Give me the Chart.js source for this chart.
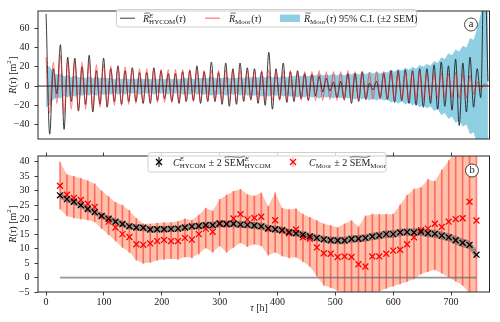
<!DOCTYPE html>
<html>
<head>
<meta charset="utf-8">
<script src="https://cdn.jsdelivr.net/npm/chart.js@4.4.1/dist/chart.umd.min.js"></script>
<style>
  html, body { margin: 0; padding: 0; background: #fff; }
  #wrap { position: relative; width: 500px; height: 322px; overflow: hidden; }
  canvas { position: absolute; left: 0; }
  #top { top: 0; }
  #bot { top: 145px; }
</style>
</head>
<body>
<div id="wrap">
  <canvas id="top" width="500" height="150"></canvas>
  <canvas id="bot" width="500" height="177"></canvas>
</div>
<script>
// ---- panel (a): extrema of the lag correlations, tau in hours
const extTau = [
  0, 6.2, 12.4, 18.6, 24.8, 31.1, 37.3, 43.5, 49.7, 55.9,
  62.1, 68.3, 74.5, 80.7, 86.9, 93.2, 99.4, 105.6, 111.8, 118.0,
  124.2, 130.4, 136.6, 142.8, 149.0, 155.3, 161.5, 167.7, 173.9, 180.1,
  186.3, 192.5, 198.7, 204.9, 211.1, 217.4, 223.6, 229.8, 236.0, 242.2,
  248.4, 254.6, 260.8, 267.0, 273.2, 279.5, 285.7, 291.9, 298.1, 304.3,
  310.5, 316.7, 322.9, 329.1, 335.3, 341.6, 347.8, 354.0, 360.2, 366.4,
  372.6, 378.8, 385.0, 391.2, 397.4, 403.7, 409.9, 416.1, 422.3, 428.5,
  434.7, 440.9, 447.1, 453.3, 459.5, 465.8, 472.0, 478.2, 484.4, 490.6,
  496.8, 503.0, 509.2, 515.4, 521.6, 527.9, 534.1, 540.3, 546.5, 552.7,
  558.9, 565.1, 571.3, 577.5, 583.7, 590.0, 596.2, 602.4, 608.6, 614.8,
  621.0, 627.2, 633.4, 639.6, 645.8, 652.1, 658.3, 664.5, 670.7, 676.9,
  683.1, 689.3, 695.5, 701.7, 707.9, 714.2, 720.4, 726.6, 732.8, 739.0,
  745.2, 751.4, 757.6, 763.8
];
const hycomExt = [
  75, -50, 18, -8, 43, -45, 30, -16, 29, -26,
  20, -19, 32, -27, 16, -19, 29, -22, 18, -16,
  21, -19, 16, -16, 19, -16, 14, -18, 14, -18,
  19, -15, 16, -13, 13, -16, 13, -18, 15, -16,
  16, -15, 21, -18, 15, -16, 25, -16, 14, -19,
  24, -21, 18, -19, 24, -16, 19, -14, 18, -18,
  15, -20, 35, -24, 18, -14, 24, -17, 15, -16,
  16, -13, 13, -15, 12, -10, 10, -6, 8, -5,
  4, -12, 5, -14, 13, -18, 13, -16, 15, -14,
  3, -4, 5, -12, 13, -14, 16, -17, 16, -15,
  17, -18, 16, -20, 18, -22, 18, -18, 22, -24,
  25, -21, 21, -25, 28, -41, 24, -27, 30, -22,
  18, -12, 140, 5
];
const moorExt = [
  30, -28, 25, -18, 32, -30, 26, -24, 27, -25,
  25, -24, 25, -23, 22, -22, 22, -21, 21, -20,
  20, -20, 20, -19, 19, -18, 18, -18, 18, -17,
  18, -17, 17, -17, 17, -17, 17, -17, 17, -16,
  17, -16, 17, -16, 16, -16, 16, -16, 16, -16,
  17, -16, 16, -16, 17, -15, 16, -15, 16, -15,
  16, -15, 17, -15, 16, -15, 16, -15, 16, -15,
  15, -15, 15, -15, 15, -15, 16, -15, 15, -14,
  15, -15, 15, -15, 16, -15, 15, -15, 15, -14,
  14, -14, 15, -14, 15, -14, 16, -14, 15, -14,
  15, -14, 16, -14, 15, -14, 14, -13, 14, -13,
  14, -12, 13, -12, 14, -13, 13, -12, 11, -8,
  4, -3, 2, 0
];
// half width of the 95% C.I. band (2 SEM)
const ciHalf = [
  22, 20, 14, 12, 13, 10, 12, 9, 11, 9,
  10, 8, 10, 8, 10, 8, 9, 8, 9, 7,
  9, 7, 9, 7, 8, 7, 9, 7, 8, 7,
  9, 7, 8, 7, 9, 7, 8, 7, 9, 8,
  9, 7, 9, 8, 9, 8, 10, 8, 9, 8,
  10, 8, 9, 8, 10, 8, 10, 9, 10, 9,
  11, 9, 11, 9, 10, 9, 11, 9, 11, 10,
  12, 10, 12, 10, 12, 11, 13, 11, 12, 11,
  13, 11, 13, 11, 13, 12, 14, 12, 14, 12,
  15, 13, 15, 13, 15, 14, 17, 15, 18, 16,
  19, 17, 20, 18, 22, 20, 23, 21, 26, 24,
  30, 28, 34, 32, 38, 36, 42, 40, 50, 48,
  60, 75, 110, 130
];

// ---- panel (b): binned covariances
const tau = [
  24, 36, 48, 60, 72, 84, 96, 108, 120, 132,
  144, 156, 168, 180, 192, 204, 216, 228, 240, 252,
  264, 276, 288, 300, 312, 324, 336, 348, 360, 372,
  384, 396, 408, 420, 432, 444, 456, 468, 480, 492,
  504, 516, 528, 540, 552, 564, 576, 588, 600, 612,
  624, 636, 648, 660, 672, 684, 696, 708, 720, 732,
  744
];
const cHycom = [
  28.4, 27.1, 26.2, 25.0, 23.7, 22.6, 21.3, 20.3, 19.3, 18.5,
  17.7, 17.3, 17.2, 16.6, 16.7, 16.7, 16.8, 16.9, 17.3, 17.7,
  17.8, 18.1, 18.1, 18.6, 18.5, 18.6, 18.3, 18.2, 18.0, 17.7,
  17.0, 16.7, 16.4, 15.7, 15.3, 14.8, 14.2, 13.7, 13.2, 12.9,
  12.8, 12.8, 13.3, 13.4, 13.7, 14.2, 14.5, 15.0, 15.0, 15.6,
  15.7, 15.6, 15.8, 15.3, 15.1, 14.5, 13.9, 12.9, 12.0, 11.3,
  7.9
];
const semHycom2 = [
  1.1, 1.1, 1.1, 1.1, 1.1, 1.1, 1.1, 1.1, 1.1, 1.1,
  1.1, 1.1, 1.1, 1.1, 1.1, 1.1, 1.1, 1.1, 1.1, 1.1,
  1.2, 1.2, 1.2, 1.2, 1.2, 1.2, 1.2, 1.2, 1.2, 1.2,
  1.2, 1.2, 1.2, 1.2, 1.2, 1.2, 1.2, 1.2, 1.2, 1.2,
  1.3, 1.3, 1.3, 1.3, 1.3, 1.3, 1.3, 1.3, 1.3, 1.3,
  1.3, 1.4, 1.4, 1.4, 1.4, 1.4, 1.4, 1.5, 1.5, 1.5,
  1.6
];
const cMoor = [
  31.7, 28.6, 27.5, 26.8, 25.5, 24.4, 21.3, 19.3, 17.3, 15.0,
  14.0, 11.5, 11.3, 11.8, 12.6, 13.0, 12.6, 12.6, 13.7, 13.1,
  15.0, 16.9, 15.8, 18.8, 18.5, 20.4, 21.9, 20.1, 20.6, 21.0,
  16.8, 19.8, 16.2, 15.3, 16.6, 13.9, 13.4, 10.4, 8.4, 8.2,
  7.1, 7.3, 7.1, 4.6, 3.8, 7.3, 7.3, 8.2, 9.3, 9.6,
  11.5, 13.9, 16.4, 16.9, 18.6, 17.5, 19.3, 20.2, 20.5, 26.2,
  19.7
];
const moorHi = [
  39.9, 35.6, 35.0, 34.3, 33.5, 32.4, 30.0, 28.0, 26.0, 25.0,
  23.2, 20.5, 18.6, 18.6, 18.8, 19.0, 19.0, 19.4, 20.3, 19.8,
  21.6, 24.0, 23.0, 27.0, 28.5, 29.8, 30.5, 28.7, 28.2, 29.3,
  24.6, 29.3, 24.0, 23.5, 23.8, 21.9, 20.8, 19.7, 18.6, 18.0,
  17.3, 18.6, 19.7, 17.5, 21.3, 21.9, 21.8, 21.9, 21.9, 25.1,
  28.4, 30.6, 31.1, 33.9, 33.3, 37.2, 40.4, 44.0, 48.0, 55.0,
  50.0
];
const moorLo = [
  23.7, 21.3, 20.6, 20.2, 19.9, 19.2, 16.9, 14.8, 12.6, 10.4,
  8.7, 6.0, 4.9, 5.2, 6.0, 6.3, 6.5, 6.3, 7.1, 6.8,
  8.2, 10.2, 8.7, 10.9, 8.7, 10.4, 12.0, 10.7, 11.5, 10.9,
  7.7, 8.7, 7.4, 6.8, 7.0, 5.5, 3.8, 0.5, -2.7, -3.5,
  -4.5, -5.5, -6.0, -6.5, -6.0, -5.2, -4.8, -3.8, -3.0, -2.2,
  -1.4, -0.5, 1.2, 2.0, 2.7, 1.5, 0.0, -1.3, -2.7, -5.5,
  -8.0
];
const xTicksStep = 100;

const X_MIN = -14, X_MAX = 766.5;
const SERIF = '"Liberation Serif", "Times New Roman", serif';
const TEXT = '#1a1a1a';
const AXIS = '#262626';
const HYCOM_LINE = 'rgba(25,25,25,0.85)';
const MOOR_LINE = 'rgba(255,30,30,0.62)';
const CI_BLUE = 'rgb(143,207,227)';
const SALMON = 'rgba(255,150,115,0.6)';
const ERRBAR = 'rgba(255,0,0,0.45)';
const GREYBAND = 'rgba(95,95,95,0.55)';

Chart.defaults.font.family = SERIF;
Chart.defaults.font.size = 10;
Chart.defaults.color = TEXT;
Chart.defaults.animation = false;

const fnt = (sz, it) => (it ? 'italic ' : '') + sz + 'px ' + SERIF;

// small math-text writer: italic letters, bars, tildes, sub/superscripts
function mathText(ctx, parts, x, y, fs, align) {
  const ss = fs * 0.7;
  const ops = [];
  let w = 0;
  for (const p of parts) {
    if (p.sub || p.sup) {
      let ww = 0;
      if (p.sup) {
        ctx.font = fnt(ss, p.sup.it);
        ops.push({ t: p.sup.t, f: ctx.font, x: w, dy: -fs * 0.42 });
        ww = Math.max(ww, ctx.measureText(p.sup.t).width);
      }
      if (p.sub) {
        ctx.font = fnt(ss, p.sub.it);
        ops.push({ t: p.sub.t, f: ctx.font, x: w, dy: fs * 0.24 });
        ww = Math.max(ww, ctx.measureText(p.sub.t).width);
      }
      w += ww + fs * 0.05;
    } else {
      ctx.font = fnt(fs, p.it);
      const m = ctx.measureText(p.t).width;
      ops.push({ t: p.t, f: ctx.font, x: w, dy: 0, w: m, bar: p.bar, tilde: p.tilde });
      w += m;
    }
  }
  const x0 = align === 'center' ? x - w / 2 : x;
  ctx.lineWidth = 0.6;
  ctx.strokeStyle = ctx.fillStyle;
  for (const o of ops) {
    ctx.font = o.f;
    ctx.fillText(o.t, x0 + o.x, y + o.dy);
    if (o.bar) {
      const yb = y - fs * 0.86;
      ctx.beginPath();
      ctx.moveTo(x0 + o.x + 1.2, yb);
      ctx.lineTo(x0 + o.x + o.w + 0.8, yb);
      ctx.stroke();
    }
    if (o.tilde) {
      const a = x0 + o.x, b = a + o.w, yt = y - fs * 0.88;
      ctx.beginPath();
      ctx.moveTo(a, yt + 0.6);
      ctx.bezierCurveTo(a + o.w * 0.3, yt - 1.6, a + o.w * 0.7, yt + 2.2, b, yt - 0.6);
      ctx.stroke();
    }
  }
  return w;
}

const Rbar = { t: 'R', it: true, bar: true };
const tauPar = [{ t: '(' }, { t: '\u03c4', it: true }, { t: ')' }];
const supE_subH = { sup: { t: 'E', it: true }, sub: { t: 'HYCOM' } };
const subM = { sub: { t: 'Moor' } };
const legTop1 = [Rbar, supE_subH, ...tauPar];
const legTop2 = [Rbar, subM, ...tauPar];
const legTop3 = [Rbar, subM, ...tauPar, { t: ' 95% C.I. (\u00b12 SEM)' }];
const legBot1 = [{ t: 'C', it: true }, supE_subH, { t: ' \u00b1 2 ' }, { t: 'SEM', tilde: true }, supE_subH];
const legBot2 = [{ t: 'C', it: true }, subM, { t: ' \u00b1 2 ' }, { t: 'SEM', tilde: true }, subM];
const yTitle = [{ t: 'R', it: true }, { t: '(' }, { t: '\u03c4', it: true }, { t: ') [m' }, { sup: { t: '2' } }, { t: ']' }];
const xTitle = [{ t: '\u03c4', it: true }, { t: ' [h]' }];

function legendBox(ctx, x, y, w, h) {
  const r = 2.5;
  ctx.beginPath();
  ctx.moveTo(x + r, y);
  ctx.arcTo(x + w, y, x + w, y + h, r);
  ctx.arcTo(x + w, y + h, x, y + h, r);
  ctx.arcTo(x, y + h, x, y, r);
  ctx.arcTo(x, y, x + w, y, r);
  ctx.closePath();
  ctx.fillStyle = 'rgba(255,255,255,0.8)';
  ctx.fill();
  ctx.strokeStyle = '#cfcfcf';
  ctx.lineWidth = 1;
  ctx.stroke();
}

function panelTag(ctx, cx, cy, letter) {
  ctx.beginPath();
  ctx.arc(cx, cy, 6.5, 0, Math.PI * 2);
  ctx.fillStyle = '#fff';
  ctx.fill();
  ctx.strokeStyle = TEXT;
  ctx.lineWidth = 0.8;
  ctx.stroke();
  ctx.fillStyle = TEXT;
  ctx.font = fnt(10.5, false);
  ctx.textAlign = 'center';
  ctx.fillText(letter, cx, cy + 2.6);
  ctx.textAlign = 'left';
}

function crossMark(ctx, cx, cy, r, color, barColor) {
  ctx.strokeStyle = barColor;
  ctx.lineWidth = 1;
  ctx.beginPath();
  ctx.moveTo(cx, cy - 5);
  ctx.lineTo(cx, cy + 5);
  ctx.stroke();
  ctx.strokeStyle = color;
  ctx.lineWidth = 1.3;
  ctx.beginPath();
  ctx.moveTo(cx - r, cy - r); ctx.lineTo(cx + r, cy + r);
  ctx.moveTo(cx - r, cy + r); ctx.lineTo(cx + r, cy - r);
  ctx.stroke();
}

const frame = {
  id: 'frame',
  afterDatasetsDraw(chart) {
    const { ctx, chartArea: a } = chart;
    ctx.save();
    ctx.strokeStyle = AXIS;
    ctx.lineWidth = 1;
    ctx.strokeRect(a.left, a.top, a.right - a.left, a.bottom - a.top);
    ctx.restore();
  }
};

const yTitlePlugin = {
  id: 'yTitle',
  afterDraw(chart) {
    const { ctx, chartArea: a } = chart;
    ctx.save();
    ctx.translate(12, (a.top + a.bottom) / 2);
    ctx.rotate(-Math.PI / 2);
    ctx.fillStyle = TEXT;
    mathText(ctx, yTitle, 0, 3.5, 10, 'center');
    ctx.restore();
  }
};

const topDecor = {
  id: 'topDecor',
  afterDatasetsDraw(chart) {
    const { ctx, chartArea: a, scales: { y } } = chart;
    const y0 = y.getPixelForValue(0);
    ctx.save();
    ctx.strokeStyle = '#111';
    ctx.lineWidth = 0.9;
    ctx.beginPath();
    ctx.moveTo(a.left, y0);
    ctx.lineTo(a.right, y0);
    ctx.stroke();
    ctx.restore();
  },
  afterDraw(chart) {
    const { ctx, chartArea: a } = chart;
    ctx.save();
    legendBox(ctx, 116.5, 9.5, 300, 17.5);
    const cy = 18.2, base = 21.7;
    ctx.lineWidth = 1;
    ctx.strokeStyle = HYCOM_LINE;
    ctx.beginPath(); ctx.moveTo(120, cy); ctx.lineTo(135, cy); ctx.stroke();
    ctx.lineWidth = 1.2;
    ctx.strokeStyle = MOOR_LINE;
    ctx.beginPath(); ctx.moveTo(205, cy); ctx.lineTo(220, cy); ctx.stroke();
    ctx.fillStyle = CI_BLUE;
    ctx.fillRect(280, 14.5, 20, 7.5);
    ctx.fillStyle = TEXT;
    mathText(ctx, legTop1, 143, base, 10);
    ctx.fillStyle = TEXT;
    mathText(ctx, legTop2, 229, base, 10);
    ctx.fillStyle = TEXT;
    mathText(ctx, legTop3, 304, base, 10);
    panelTag(ctx, 471, a.top + 13.5, 'a');
    ctx.restore();
  }
};

const botDecor = {
  id: 'botDecor',
  afterDraw(chart) {
    const { ctx, chartArea: a } = chart;
    ctx.save();
    legendBox(ctx, 148, 7.5, 238, 19.5);
    const cy = 17, base = 20.6;
    crossMark(ctx, 159, cy, 3, '#000', '#000');
    crossMark(ctx, 293, cy, 3, 'red', ERRBAR);
    ctx.fillStyle = TEXT;
    mathText(ctx, legBot1, 173, base, 10);
    ctx.fillStyle = TEXT;
    mathText(ctx, legBot2, 309, base, 10);
    panelTag(ctx, 472, a.top + 14.5, 'b');
    ctx.fillStyle = TEXT;
    mathText(ctx, xTitle, 259, 165.5, 10, 'center');
    ctx.restore();
  }
};

const minusFmt = v => (v < 0 ? '\u2212' + Math.abs(v) : String(v));
const tickGrid = { drawOnChartArea: false, drawTicks: true, tickLength: 3.5, color: AXIS, lineWidth: 0.9, offset: false };

// ---------------- panel (a)
new Chart(document.getElementById('top'), {
  type: 'line',
  data: {
    datasets: [
      {
        data: extTau.map((t, i) => ({ x: t, y: -ciHalf[i] })),
        borderWidth: 0, pointRadius: 0, fill: false, order: 5, clip: 0
      },
      {
        data: extTau.map((t, i) => ({ x: t, y: ciHalf[i] })),
        borderWidth: 0, pointRadius: 0, fill: '-1', backgroundColor: CI_BLUE, order: 4, clip: 0
      },
      {
        data: extTau.map((t, i) => ({ x: t, y: hycomExt[i] })),
        borderColor: HYCOM_LINE, borderWidth: 1, pointRadius: 0,
        cubicInterpolationMode: 'monotone', order: 2, clip: 0
      },
      {
        data: extTau.map((t, i) => ({ x: t, y: moorExt[i] })),
        borderColor: MOOR_LINE, borderWidth: 1.2, pointRadius: 0,
        cubicInterpolationMode: 'monotone', order: 1, clip: 0
      }
    ]
  },
  options: {
    responsive: false,
    animation: false,
    layout: { padding: { left: 0, right: 10.5, top: 5, bottom: 1.5 } },
    plugins: { legend: { display: false }, tooltip: { enabled: false } },
    scales: {
      x: { type: 'linear', min: X_MIN, max: X_MAX, offset: false, display: false },
      y: {
        min: -55, max: 78,
        ticks: { stepSize: 20, includeBounds: false, padding: 5, callback: minusFmt },
        grid: tickGrid,
        border: { display: false },
        afterFit(s) { s.width = 38; }
      }
    }
  },
  plugins: [frame, topDecor, yTitlePlugin]
});

// ---------------- panel (b)
new Chart(document.getElementById('bot'), {
  type: 'line',
  data: {
    datasets: [
      {
        data: tau.map((t, i) => ({ x: t, y: moorLo[i] })),
        borderWidth: 0, pointRadius: 0, fill: false, order: 10, clip: 0
      },
      {
        data: tau.map((t, i) => ({ x: t, y: moorHi[i] })),
        borderWidth: 0, pointRadius: 0, fill: '-1', backgroundColor: SALMON, order: 9, clip: 0
      },
      {
        type: 'bar',
        data: tau.map((t, i) => ({ x: t, y: [moorLo[i], moorHi[i]] })),
        backgroundColor: ERRBAR, borderWidth: 0, barThickness: 1, order: 8, clip: 0
      },
      {
        data: tau.map(t => ({ x: t, y: 0 })),
        borderColor: 'rgba(105,105,105,0.7)', borderWidth: 1.8, pointRadius: 0, order: 7
      },
      {
        data: tau.map((t, i) => ({ x: t, y: cHycom[i] - semHycom2[i] })),
        borderWidth: 0, pointRadius: 0, fill: false, order: 6
      },
      {
        data: tau.map((t, i) => ({ x: t, y: cHycom[i] + semHycom2[i] })),
        borderWidth: 0, pointRadius: 0, fill: '-1', backgroundColor: GREYBAND, order: 5
      },
      {
        data: tau.map((t, i) => ({ x: t, y: cMoor[i] })),
        showLine: false, pointStyle: 'crossRot', pointRadius: 4.2,
        borderColor: 'red', borderWidth: 1.3, order: 2
      },
      {
        data: tau.map((t, i) => ({ x: t, y: cHycom[i] })),
        showLine: false, pointStyle: 'crossRot', pointRadius: 4.2,
        borderColor: '#000', borderWidth: 1.3, order: 1
      }
    ]
  },
  options: {
    responsive: false,
    animation: false,
    layout: { padding: { left: 0, right: 10.5, top: 0, bottom: 0 } },
    plugins: { legend: { display: false }, tooltip: { enabled: false } },
    scales: {
      x: {
        type: 'linear', position: 'bottom', min: X_MIN, max: X_MAX, offset: false,
        ticks: { stepSize: xTicksStep, includeBounds: false, padding: 1, maxRotation: 0, autoSkip: false },
        grid: tickGrid,
        border: { display: false },
        afterFit(s) { s.height = 30; }
      },
      xTop: {
        type: 'linear', position: 'top', min: X_MIN, max: X_MAX, offset: false,
        ticks: { stepSize: xTicksStep, includeBounds: false, display: false },
        grid: tickGrid,
        border: { display: false },
        afterFit(s) { s.height = 3.5; }
      },
      y: {
        min: -5, max: 42,
        ticks: { stepSize: 5, includeBounds: false, padding: 5, callback: minusFmt },
        grid: tickGrid,
        border: { display: false },
        afterFit(s) { s.width = 38; }
      }
    }
  },
  plugins: [frame, botDecor, yTitlePlugin]
});
</script>
</body>
</html>
